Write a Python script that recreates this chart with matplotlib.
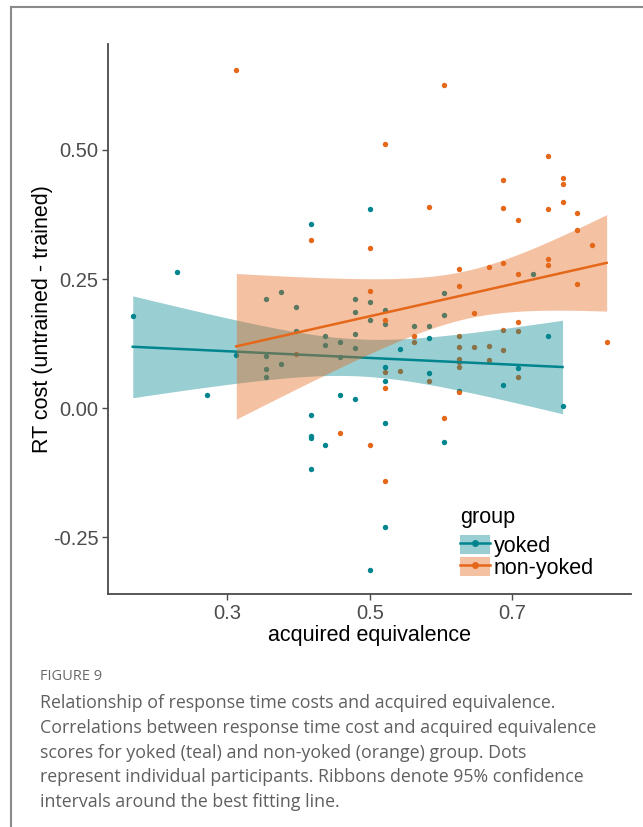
import numpy as np
import matplotlib
matplotlib.use("Agg")
import matplotlib.pyplot as plt
from matplotlib.patches import Patch
from matplotlib.lines import Line2D
from matplotlib.legend_handler import HandlerTuple

# ---------------- data ----------------
yoked_x = [0.167, 0.229, 0.271, 0.3125, 0.354, 0.375, 0.396, 0.354, 0.354, 0.354,
           0.375, 0.396, 0.417, 0.417, 0.417, 0.417, 0.417, 0.4375, 0.4375, 0.4375,
           0.458, 0.458, 0.458, 0.479, 0.479, 0.479, 0.479, 0.479, 0.5, 0.5,
           0.5, 0.5, 0.521, 0.521, 0.521, 0.521, 0.521, 0.521, 0.542, 0.5625,
           0.583, 0.583, 0.583, 0.604, 0.604, 0.604, 0.625, 0.6875, 0.708, 0.729,
           0.75, 0.771]
yoked_y = [0.178, 0.264, 0.026, 0.103, 0.211, 0.2245, 0.1955, 0.101, 0.076, 0.061,
           0.086, 0.149, 0.357, -0.013, -0.053, -0.057, -0.117, 0.1405, 0.1225, -0.071,
           0.128, 0.100, 0.026, 0.2115, 0.186, 0.144, 0.117, 0.018, 0.385, 0.205,
           0.170, -0.312, 0.190, 0.164, 0.0795, 0.0525, -0.029, -0.230, 0.114, 0.159,
           0.159, 0.136, 0.068, 0.2225, 0.1805, -0.066, 0.0335, 0.045, 0.078, 0.2595,
           0.1395, 0.005]

nonyoked_x = [0.3125, 0.417, 0.396, 0.458, 0.5, 0.5, 0.5, 0.521, 0.521, 0.521,
              0.521, 0.521, 0.542, 0.5625, 0.5625, 0.583, 0.583, 0.604, 0.604, 0.625,
              0.625, 0.625, 0.625, 0.625, 0.625, 0.625, 0.625, 0.646, 0.646, 0.667,
              0.667, 0.667, 0.6875, 0.6875, 0.6875, 0.6875, 0.6875, 0.708, 0.708, 0.708,
              0.708, 0.708, 0.75, 0.75, 0.75, 0.75, 0.771, 0.771, 0.771, 0.792,
              0.792, 0.792, 0.8125, 0.833]
nonyoked_y = [0.655, 0.325, 0.105, -0.048, 0.311, 0.227, -0.071, 0.5115, 0.170, 0.070,
              0.039, -0.141, 0.073, 0.140, 0.128, 0.390, 0.0525, 0.625, -0.019, 0.269,
              0.237, 0.1405, 0.119, 0.096, 0.089, 0.0805, 0.031, 0.184, 0.119, 0.2735,
              0.1205, 0.0935, 0.442, 0.3875, 0.2805, 0.152, 0.1125, 0.364, 0.259, 0.168,
              0.150, 0.0605, 0.488, 0.386, 0.288, 0.277, 0.445, 0.434, 0.399, 0.3785,
              0.3445, 0.2405, 0.317, 0.128]

group_labels = ["yoked", "non-yoked"]
x_ticks = [0.3, 0.5, 0.7]
y_ticks = [-0.25, 0.0, 0.25, 0.50]
y_tick_labels = ["-0.25", "0.00", "0.25", "0.50"]

caption_head = "FIGURE 9"
caption_lines = [
    "Relationship of response time costs and acquired equivalence.",
    "Correlations between response time cost and acquired equivalence",
    "scores for yoked (teal) and non-yoked (orange) group. Dots",
    "represent individual participants. Ribbons denote 95% confidence",
    "intervals around the best fitting line.",
]

# ---------------- style ----------------
TEAL = "#00858f"
ORANGE = "#e5671a"
T_CRIT = 2.008  # 95% two-sided t quantile, df ~ 50

plt.rcParams['font.family'] = ['Liberation Sans', 'DejaVu Sans']

fig = plt.figure(figsize=(6.43, 8.27), dpi=100)
ax = fig.add_axes([108.3 / 643, 1 - 594 / 827, (630.7 - 108.3) / 643, (594 - 44.3) / 827])


def fit_band(x, y, n=80):
    x = np.asarray(x, float)
    y = np.asarray(y, float)
    b, a = np.polyfit(x, y, 1)
    xs = np.linspace(x.min(), x.max(), n)
    yhat = a + b * xs
    resid = y - (a + b * x)
    s = np.sqrt(np.sum(resid ** 2) / (len(x) - 2))
    se = s * np.sqrt(1 / len(x) + (xs - x.mean()) ** 2 / np.sum((x - x.mean()) ** 2))
    return xs, yhat, yhat - T_CRIT * se, yhat + T_CRIT * se


groups = [(yoked_x, yoked_y, TEAL), (nonyoked_x, nonyoked_y, ORANGE)]
for gx, gy, c in groups:
    ax.scatter(gx, gy, s=15, color=c, linewidths=0, zorder=1)

z = 2
for gx, gy, c in groups:
    xs, yh, lo, hi = fit_band(gx, gy)
    ax.fill_between(xs, lo, hi, color=c, alpha=0.4, linewidth=0, zorder=z)
    ax.plot(xs, yh, color=c, lw=1.8, zorder=z + 1)
    z += 2

ax.set_xlim(0.1326, 0.8668)
ax.set_ylim(-0.3594, 0.7045)
ax.set_xticks(x_ticks)
ax.set_xticklabels([f"{v:.1f}" for v in x_ticks])
ax.set_yticks(y_ticks)
ax.set_yticklabels(y_tick_labels)
for sp in ["top", "right"]:
    ax.spines[sp].set_visible(False)
for sp in ["left", "bottom"]:
    ax.spines[sp].set_color("#4a4a4a")
    ax.spines[sp].set_linewidth(1.3)
ax.tick_params(axis="both", length=4, width=1.0, color="#4a4a4a",
               labelsize=14.5, labelcolor="#4d4d4d", pad=3)
ax.set_xlabel("acquired equivalence", fontsize=15.5, labelpad=2)
ax.set_ylabel("RT cost (untrained - trained)", fontsize=15.5, labelpad=0)

handles = []
for gx, gy, c in groups:
    handles.append((Patch(facecolor=c, alpha=0.4, edgecolor="none"),
                    Line2D([], [], color=c, lw=1.8, marker="o", markersize=4)))
leg = ax.legend(handles, group_labels, title="group",
                handler_map={tuple: HandlerTuple(ndivide=1)},
                loc="upper left", bbox_to_anchor=(456 / 643, 1 - 503 / 827),
                bbox_transform=fig.transFigure, frameon=False,
                fontsize=15.5, title_fontsize=15.5, handlelength=1.4,
                handleheight=1.0, labelspacing=0.0, handletextpad=0.15,
                borderpad=0.2, borderaxespad=0.0, alignment="left")
leg._legend_box.sep = 4.5

# frame lines
fig.add_artist(Line2D([11 / 643, 1], [1 - 7.3 / 827, 1 - 7.3 / 827],
                      transform=fig.transFigure, color="#8a8a8a", lw=1.5))
fig.add_artist(Line2D([11 / 643, 11 / 643], [0, 1 - 7.3 / 827],
                      transform=fig.transFigure, color="#8a8a8a", lw=1.5))

fig.text(40 / 643, 1 - 676 / 827, caption_head, fontsize=10.5, color="#6a6a6a",
         family=["Open Sans", "DejaVu Sans"], va="center")
for i, line in enumerate(caption_lines):
    fig.text(40 / 643, 1 - (703 + i * 24.8) / 827, line, fontsize=12.75,
             color="#5f5f5f", family=["Open Sans", "DejaVu Sans"], va="center")

fig.savefig("out.png", dpi=100)
